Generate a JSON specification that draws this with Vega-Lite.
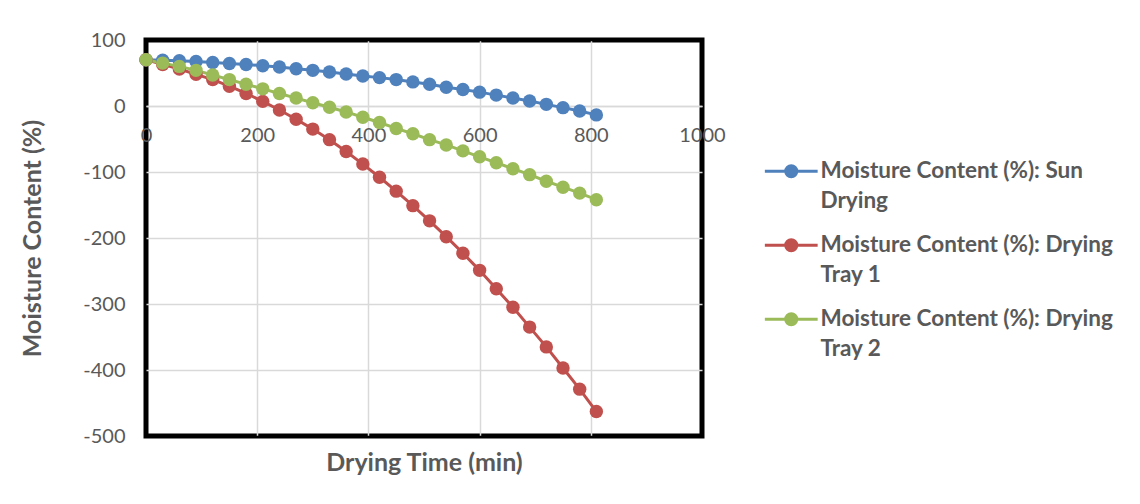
{
  "$schema": "https://vega.github.io/schema/vega-lite/v6.json",
  "width": 556,
  "height": 396,
  "autosize": "none",
  "padding": {"left": 146, "top": 40, "right": 438, "bottom": 68},
  "background": "white",
  "config": {"view": {"stroke": "black", "strokeWidth": 5}, "font": "Lato"},
  "datasets": {
    "mc": [
      {"t": 0, "s": "Moisture Content (%): Sun Drying", "v": 70},
      {"t": 30, "s": "Moisture Content (%): Sun Drying", "v": 69.5},
      {"t": 60, "s": "Moisture Content (%): Sun Drying", "v": 68.5},
      {"t": 90, "s": "Moisture Content (%): Sun Drying", "v": 67.5},
      {"t": 120, "s": "Moisture Content (%): Sun Drying", "v": 66},
      {"t": 150, "s": "Moisture Content (%): Sun Drying", "v": 64.5},
      {"t": 180, "s": "Moisture Content (%): Sun Drying", "v": 63},
      {"t": 210, "s": "Moisture Content (%): Sun Drying", "v": 61},
      {"t": 240, "s": "Moisture Content (%): Sun Drying", "v": 59},
      {"t": 270, "s": "Moisture Content (%): Sun Drying", "v": 56.5},
      {"t": 300, "s": "Moisture Content (%): Sun Drying", "v": 54},
      {"t": 330, "s": "Moisture Content (%): Sun Drying", "v": 51.5},
      {"t": 360, "s": "Moisture Content (%): Sun Drying", "v": 48.5},
      {"t": 390, "s": "Moisture Content (%): Sun Drying", "v": 45.5},
      {"t": 420, "s": "Moisture Content (%): Sun Drying", "v": 43},
      {"t": 450, "s": "Moisture Content (%): Sun Drying", "v": 40},
      {"t": 480, "s": "Moisture Content (%): Sun Drying", "v": 36.5},
      {"t": 510, "s": "Moisture Content (%): Sun Drying", "v": 33},
      {"t": 540, "s": "Moisture Content (%): Sun Drying", "v": 28.5},
      {"t": 570, "s": "Moisture Content (%): Sun Drying", "v": 25},
      {"t": 600, "s": "Moisture Content (%): Sun Drying", "v": 21},
      {"t": 630, "s": "Moisture Content (%): Sun Drying", "v": 16.5},
      {"t": 660, "s": "Moisture Content (%): Sun Drying", "v": 12},
      {"t": 690, "s": "Moisture Content (%): Sun Drying", "v": 7.5},
      {"t": 720, "s": "Moisture Content (%): Sun Drying", "v": 2.5},
      {"t": 750, "s": "Moisture Content (%): Sun Drying", "v": -2.5},
      {"t": 780, "s": "Moisture Content (%): Sun Drying", "v": -7.5},
      {"t": 810, "s": "Moisture Content (%): Sun Drying", "v": -13.5},
      {"t": 0, "s": "Moisture Content (%): Drying Tray 1", "v": 70},
      {"t": 30, "s": "Moisture Content (%): Drying Tray 1", "v": 63},
      {"t": 60, "s": "Moisture Content (%): Drying Tray 1", "v": 56},
      {"t": 90, "s": "Moisture Content (%): Drying Tray 1", "v": 48},
      {"t": 120, "s": "Moisture Content (%): Drying Tray 1", "v": 40},
      {"t": 150, "s": "Moisture Content (%): Drying Tray 1", "v": 30},
      {"t": 180, "s": "Moisture Content (%): Drying Tray 1", "v": 19},
      {"t": 210, "s": "Moisture Content (%): Drying Tray 1", "v": 7},
      {"t": 240, "s": "Moisture Content (%): Drying Tray 1", "v": -6},
      {"t": 270, "s": "Moisture Content (%): Drying Tray 1", "v": -20},
      {"t": 300, "s": "Moisture Content (%): Drying Tray 1", "v": -35},
      {"t": 330, "s": "Moisture Content (%): Drying Tray 1", "v": -51},
      {"t": 360, "s": "Moisture Content (%): Drying Tray 1", "v": -69},
      {"t": 390, "s": "Moisture Content (%): Drying Tray 1", "v": -88},
      {"t": 420, "s": "Moisture Content (%): Drying Tray 1", "v": -108},
      {"t": 450, "s": "Moisture Content (%): Drying Tray 1", "v": -129},
      {"t": 480, "s": "Moisture Content (%): Drying Tray 1", "v": -151},
      {"t": 510, "s": "Moisture Content (%): Drying Tray 1", "v": -174},
      {"t": 540, "s": "Moisture Content (%): Drying Tray 1", "v": -198},
      {"t": 570, "s": "Moisture Content (%): Drying Tray 1", "v": -223},
      {"t": 600, "s": "Moisture Content (%): Drying Tray 1", "v": -249},
      {"t": 630, "s": "Moisture Content (%): Drying Tray 1", "v": -277},
      {"t": 660, "s": "Moisture Content (%): Drying Tray 1", "v": -305},
      {"t": 690, "s": "Moisture Content (%): Drying Tray 1", "v": -335},
      {"t": 720, "s": "Moisture Content (%): Drying Tray 1", "v": -365},
      {"t": 750, "s": "Moisture Content (%): Drying Tray 1", "v": -397},
      {"t": 780, "s": "Moisture Content (%): Drying Tray 1", "v": -429},
      {"t": 810, "s": "Moisture Content (%): Drying Tray 1", "v": -463},
      {"t": 0, "s": "Moisture Content (%): Drying Tray 2", "v": 70},
      {"t": 30, "s": "Moisture Content (%): Drying Tray 2", "v": 65},
      {"t": 60, "s": "Moisture Content (%): Drying Tray 2", "v": 60},
      {"t": 90, "s": "Moisture Content (%): Drying Tray 2", "v": 54},
      {"t": 120, "s": "Moisture Content (%): Drying Tray 2", "v": 47},
      {"t": 150, "s": "Moisture Content (%): Drying Tray 2", "v": 40},
      {"t": 180, "s": "Moisture Content (%): Drying Tray 2", "v": 33},
      {"t": 210, "s": "Moisture Content (%): Drying Tray 2", "v": 26},
      {"t": 240, "s": "Moisture Content (%): Drying Tray 2", "v": 19},
      {"t": 270, "s": "Moisture Content (%): Drying Tray 2", "v": 12},
      {"t": 300, "s": "Moisture Content (%): Drying Tray 2", "v": 5},
      {"t": 330, "s": "Moisture Content (%): Drying Tray 2", "v": -2},
      {"t": 360, "s": "Moisture Content (%): Drying Tray 2", "v": -9},
      {"t": 390, "s": "Moisture Content (%): Drying Tray 2", "v": -17},
      {"t": 420, "s": "Moisture Content (%): Drying Tray 2", "v": -25},
      {"t": 450, "s": "Moisture Content (%): Drying Tray 2", "v": -34},
      {"t": 480, "s": "Moisture Content (%): Drying Tray 2", "v": -42},
      {"t": 510, "s": "Moisture Content (%): Drying Tray 2", "v": -51},
      {"t": 540, "s": "Moisture Content (%): Drying Tray 2", "v": -59},
      {"t": 570, "s": "Moisture Content (%): Drying Tray 2", "v": -68},
      {"t": 600, "s": "Moisture Content (%): Drying Tray 2", "v": -77},
      {"t": 630, "s": "Moisture Content (%): Drying Tray 2", "v": -86},
      {"t": 660, "s": "Moisture Content (%): Drying Tray 2", "v": -95},
      {"t": 690, "s": "Moisture Content (%): Drying Tray 2", "v": -104},
      {"t": 720, "s": "Moisture Content (%): Drying Tray 2", "v": -114},
      {"t": 750, "s": "Moisture Content (%): Drying Tray 2", "v": -123},
      {"t": 780, "s": "Moisture Content (%): Drying Tray 2", "v": -132},
      {"t": 810, "s": "Moisture Content (%): Drying Tray 2", "v": -142}
    ]
  },
  "data": {"name": "mc"},
  "encoding": {
    "x": {
      "field": "t",
      "type": "quantitative",
      "scale": {"domain": [0, 1000], "nice": false},
      "axis": {
        "title": "Drying Time (min)",
        "values": [0, 200, 400, 600, 800, 1000],
        "labelExpr": "'' + datum.value",
        "offset": -330,
        "ticks": false,
        "labelPadding": 19,
        "labelFontSize": 20,
        "labelColor": "#595959",
        "labelFlush": false,
        "labelOverlap": false,
        "domainColor": "#d9d9d9",
        "domainWidth": 1.5,
        "gridColor": {"condition": {"test": "datum.value == 0 || datum.value == 1000", "value": "black"}, "value": "#d9d9d9"},
        "gridWidth": 1.5,
        "titleFontSize": 25,
        "titleFontWeight": "bold",
        "titleColor": "#595959",
        "titleY": 356,
        "titleBaseline": "middle"
      }
    },
    "y": {
      "field": "v",
      "type": "quantitative",
      "scale": {"domain": [-500, 100], "nice": false},
      "axis": {
        "title": "Moisture Content (%)",
        "values": [100, 0, -100, -200, -300, -400, -500],
        "labelExpr": "'' + datum.value",
        "ticks": false,
        "domain": false,
        "labelPadding": 21,
        "labelFontSize": 20,
        "labelColor": "#595959",
        "labelFlush": false,
        "labelOverlap": false,
        "gridColor": {"condition": {"test": "datum.value == 100 || datum.value == -500", "value": "black"}, "value": "#d9d9d9"},
        "gridWidth": 1.5,
        "titleFontSize": 25,
        "titleFontWeight": "bold",
        "titleColor": "#595959",
        "titlePadding": 37
      }
    },
    "color": {
      "field": "s",
      "type": "nominal",
      "scale": {
        "domain": ["Moisture Content (%): Sun Drying", "Moisture Content (%): Drying Tray 1", "Moisture Content (%): Drying Tray 2"],
        "range": ["#4F81BD", "#C0504D", "#9BBB59"]
      },
      "legend": {
        "orient": "none",
        "legendX": 634,
        "legendY": 120,
        "title": null,
        "padding": 0,
        "labelFontSize": 22.5,
        "labelFontWeight": "bold",
        "labelColor": "#595959",
        "labelLimit": 400,
        "labelOffset": 18,
        "rowPadding": 20,
        "symbolType": "M-4.8,0H4.8M-1,0A1,1 0 1,0 1,0A1,1 0 1,0 -1,0Z",
        "symbolSize": 121,
        "symbolStrokeWidth": 3,
        "labelExpr": "datum.label == 'Moisture Content (%): Sun Drying' ? ['Moisture Content (%): Sun', 'Drying'] : datum.label == 'Moisture Content (%): Drying Tray 1' ? ['Moisture Content (%): Drying', 'Tray 1'] : ['Moisture Content (%): Drying', 'Tray 2']",
        "encode": {"labels": {"update": {"lineHeight": {"value": 30}}}}
      }
    }
  },
  "layer": [
    {"mark": {"type": "line", "strokeWidth": 3}},
    {"mark": {"type": "circle", "size": 180, "opacity": 1}}
  ]
}
